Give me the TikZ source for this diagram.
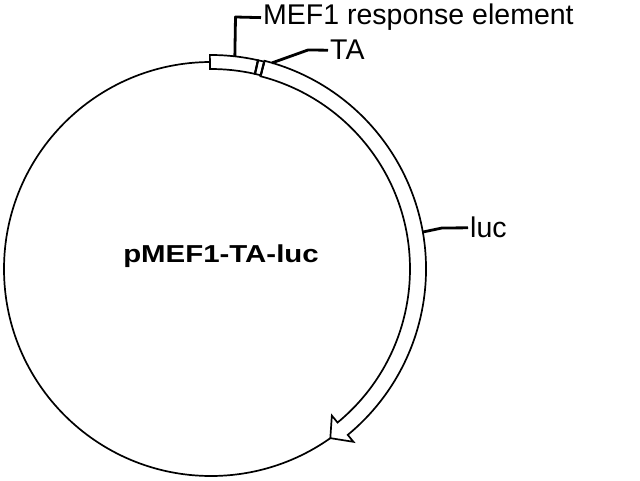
\documentclass[tikz,border=0pt]{standalone}
\usepackage{fontspec}
\setmainfont{Liberation Sans}
\usetikzlibrary{calc}
\tikzset{
  thinline/.style={line width=1.7pt, line join=miter},
  leader/.style={line width=2.8pt, line join=round},
  lab/.style={inner xsep=2pt, inner ysep=0pt, font=\fontsize{28.5}{34}\selectfont},
  feature/.style={thinline, draw=black, fill=white},
  tamark/.style={line width=2.2pt, draw=black, fill=white}
}
\begin{document}
\begin{tikzpicture}[x=1pt,y=1pt]
\useasboundingbox[fill=white] (0,0) rectangle (640,480);
\coordinate (C) at (211,211);
% plasmid backbone
\draw[thinline] (C) circle[radius=207];
\begin{scope}[shift={(C)}]
  % luc band with arrow head
  \draw[feature] (75.6:215) arc[start angle=75.6, end angle=-50.5, radius=215]
     -- (-50.5:224) -- (-54.8:207) -- (-50.5:190) -- (-50.5:199)
     arc[start angle=-50.5, end angle=75.6, radius=199] -- cycle;
  % MEF1 response element box
  \draw[feature] (90.3:200) -- (90.3:214) arc[start angle=90.3, end angle=77.3, radius=214]
     -- (77.3:200) arc[start angle=77.3, end angle=90.3, radius=200] -- cycle;
  % TA element
  \draw[feature] (77.3:200) -- (77.3:214) arc[start angle=77.3, end angle=75.6, radius=214]
     -- (75.6:200) arc[start angle=75.6, end angle=77.3, radius=200] -- cycle;
  \draw[tamark] (77.3:200) -- (77.3:214);
  \draw[tamark] (75.6:200) -- (75.6:214);
  \coordinate (mefpt) at (83.6:214);
  \coordinate (tapt) at (73.5:215);
  \coordinate (lucpt) at (9.9:215);
\end{scope}
% labels
\node[lab, anchor=base west] (meflab) at (261,455) {MEF1 response element};
\node[lab, anchor=base west] (talab) at (328,420) {TA};
\node[lab, anchor=base west] (luclab) at (468,242) {luc};
\node[anchor=base, inner sep=0pt, font=\bfseries\fontsize{24.5}{30}\selectfont] (title) at (221,218)
  {\scalebox{1.2}[1]{pMEF1-TA-luc}};
% leaders
\coordinate (mefbend) at (235.5,463);
\coordinate (tabend) at (308,430);
\coordinate (lucbend) at (442,252);
\draw[leader] (mefpt) -- (mefbend) -- (meflab.west);
\draw[leader] (tapt) -- (tabend) -- (talab.west);
\draw[leader] (lucpt) -- (lucbend) -- (luclab.west);
\end{tikzpicture}
\end{document}
